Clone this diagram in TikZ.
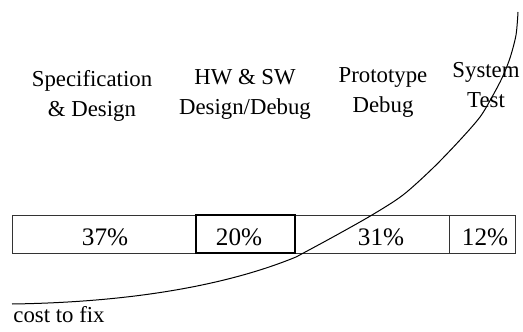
\documentclass[tikz,border=0pt]{standalone}
\usepackage{fontspec}
\setmainfont{Liberation Serif}

\begin{document}
\begin{tikzpicture}[x=0.5pt, y=-0.5pt, font=\fontsize{11.4}{15}\selectfont]
  \useasboundingbox (0,0) rectangle (523,331);
  \tikzset{
    phase/.style={align=center, anchor=base},
    pct/.style={anchor=base, font=\fontsize{12.6}{15}\selectfont},
    cell/.style={draw, line width=0.45pt, black!80},
    hotcell/.style={draw, line width=0.8pt}
  }
  % --- phase names (anchor = baseline of the last line) ---
  \node[phase] (spec)  at (92,117)  {Specification\\\& Design};
  \node[phase] (hwsw)  at (245,115) {HW \& SW\\Design/Debug};
  \node[phase] (proto) at (383,113) {Prototype\\Debug};
  \node[phase] (sys)   at (486,108) {System\\Test};

  % --- effort bar ---
  \coordinate (TL) at (12,215);
  \coordinate (BR) at (515,253);
  \draw[cell] (TL) rectangle (BR);
  \draw[cell] (449,215) -- (449,253);
  \draw[hotcell] (196,215) rectangle (295,253);
  \node[pct] (p1) at (105,245) {37\%};
  \node[pct] (p2) at (239,245) {20\%};
  \node[pct] (p3) at (381,245) {31\%};
  \node[pct] (p4) at (485,245) {12\%};

  % --- cost curve ---
  \draw[line width=0.5pt] (12,304) .. controls (150,302) and (240,280) .. (296,257);
  \draw[line width=0.5pt] plot[smooth] coordinates
    {(296,257) (333,237) (372,215) (403,195) (433,168) (460,140)
     (480,117) (492,97) (502,78) (510,58) (516,35) (518,12)};
  \node[anchor=base west, inner xsep=0pt] (cost) at (13,322) {cost to fix};
\end{tikzpicture}
\end{document}
